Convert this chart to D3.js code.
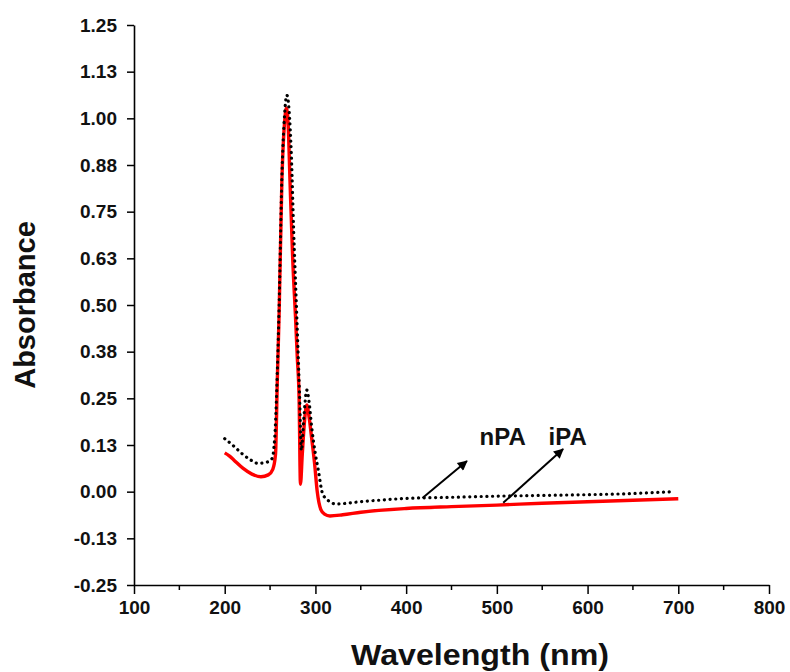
<!DOCTYPE html>
<html>
<head>
<meta charset="utf-8">
<script src="https://cdn.jsdelivr.net/npm/d3@7"></script>
<style>
  html, body { margin: 0; padding: 0; background: #fff; }
  svg { display: block; }
</style>
</head>
<body>
<svg id="chart" width="790" height="672"></svg>
<script>
"use strict";

// nPA (black dotted) - wavelength nm / absorbance
const npaWave = [200, 210, 220, 230, 236, 245, 252, 255, 258, 260, 263, 266, 268.5, 271, 273.5, 276, 279, 282.5, 284.5, 287, 290.5, 293, 296, 300, 303, 308, 316, 322, 350, 400, 450, 500, 550, 600, 650, 693];
const npaAbs  = [0.142, 0.122, 0.100, 0.083, 0.076, 0.078, 0.088, 0.14, 0.32, 0.50, 0.84, 1.01, 1.062, 1.02, 0.90, 0.70, 0.50, 0.26, 0.11, 0.19, 0.272, 0.24, 0.17, 0.10, 0.06, -0.006, -0.027, -0.033, -0.027, -0.018, -0.015, -0.012, -0.010, -0.008, -0.005, 0.000];

// iPA (red solid)
const ipaWave = [200, 205, 210, 220, 230, 240, 248, 253, 256, 258, 260, 263, 266, 268, 270, 272, 275, 278, 280, 282, 283.5, 285.5, 288, 290.5, 293, 296, 299, 302, 306, 310, 316, 330, 350, 400, 450, 500, 550, 600, 650, 700];
const ipaAbs  = [0.104, 0.096, 0.085, 0.063, 0.047, 0.040, 0.045, 0.060, 0.10, 0.30, 0.48, 0.83, 0.99, 1.027, 0.98, 0.83, 0.62, 0.47, 0.36, 0.25, 0.02, 0.10, 0.19, 0.232, 0.20, 0.14, 0.077, 0.00, -0.048, -0.060, -0.065, -0.062, -0.055, -0.045, -0.040, -0.036, -0.031, -0.027, -0.023, -0.019];

const xTicks = [100, 200, 300, 400, 500, 600, 700, 800];
const xMinorTicks = [150, 250, 350, 450, 550, 650, 750];
const yTicks = [1.25, 1.125, 1.0, 0.875, 0.75, 0.625, 0.5, 0.375, 0.25, 0.125, 0.0, -0.125, -0.25];
const yTickLabels = ["1.25", "1.13", "1.00", "0.88", "0.75", "0.63", "0.50", "0.38", "0.25", "0.13", "0.00", "-0.13", "-0.25"];

// arrow annotations: [label, tail nm, tail abs, head nm, head abs, label nm, label abs]
const annotations = [
  ["nPA", 418, -0.017, 467, 0.082, 481, 0.125],
  ["iPA", 507, -0.030, 573, 0.114, 557, 0.125]
];

const svg = d3.select("#chart");
const font = "'Liberation Sans', Arial, sans-serif";

const x = d3.scaleLinear().domain([100, 800]).range([134, 769]);
const y = d3.scaleLinear().domain([-0.25, 1.25]).range([585, 25]);

svg.append("rect").attr("width", 790).attr("height", 672).attr("fill", "#fff");

// axes
const xAxis = svg.append("g")
  .attr("transform", `translate(0,${y(-0.25)})`)
  .call(d3.axisBottom(x).tickValues(xTicks).tickSize(9).tickPadding(7).tickFormat(d3.format("d")).tickSizeOuter(0));
xAxis.append("g").selectAll("line")
  .data(xMinorTicks)
  .join("line")
  .attr("x1", (d) => x(d)).attr("x2", (d) => x(d))
  .attr("y1", 0).attr("y2", 5)
  .attr("stroke", "#000").attr("stroke-width", 1.5);

const yAxis = svg.append("g")
  .attr("transform", `translate(${x(100)},0)`)
  .call(d3.axisLeft(y).tickValues(yTicks).tickSize(7).tickPadding(10)
    .tickFormat((d, i) => yTickLabels[i]).tickSizeOuter(0));

[xAxis, yAxis].forEach((g) => {
  g.select(".domain").attr("stroke", "#000").attr("stroke-width", 1.6);
  g.selectAll(".tick line").attr("stroke", "#000").attr("stroke-width", 1.5);
  g.selectAll(".tick text")
    .attr("fill", "#111")
    .style("font-family", font)
    .style("font-size", "19px")
    .style("font-weight", "bold");
});

// curves
const line = d3.line()
  .x((d) => x(d[0]))
  .y((d) => y(d[1]))
  .curve(d3.curveMonotoneX);

svg.append("path")
  .datum(ipaWave.map((w, i) => [w, ipaAbs[i]]))
  .attr("d", line)
  .attr("fill", "none")
  .attr("stroke", "#f00")
  .attr("stroke-width", 3.4)
  .attr("stroke-linejoin", "round");

svg.append("path")
  .datum(npaWave.map((w, i) => [w, npaAbs[i]]))
  .attr("d", line)
  .attr("fill", "none")
  .attr("stroke", "#000")
  .attr("stroke-width", 3.2)
  .attr("stroke-linecap", "round")
  .attr("stroke-dasharray", "0.1 5.6");

// arrows
svg.append("defs").append("marker")
  .attr("id", "arrow")
  .attr("viewBox", "0 0 10 10")
  .attr("refX", 9).attr("refY", 5)
  .attr("markerWidth", 7).attr("markerHeight", 5)
  .attr("markerUnits", "strokeWidth")
  .attr("orient", "auto")
  .append("path")
  .attr("d", "M0,0L10,5L0,10Z")
  .attr("fill", "#000");

const ann = svg.append("g");
ann.selectAll("line")
  .data(annotations)
  .join("line")
  .attr("x1", (d) => x(d[1])).attr("y1", (d) => y(d[2]))
  .attr("x2", (d) => x(d[3])).attr("y2", (d) => y(d[4]))
  .attr("stroke", "#000")
  .attr("stroke-width", 2)
  .attr("marker-end", "url(#arrow)");

ann.selectAll("text")
  .data(annotations)
  .join("text")
  .attr("x", (d) => x(d[5]))
  .attr("y", (d) => y(d[6]))
  .style("font-family", font)
  .style("font-size", "24px")
  .style("font-weight", "bold")
  .attr("fill", "#111")
  .text((d) => d[0]);

// axis titles
svg.append("text")
  .attr("x", 480)
  .attr("y", 665)
  .attr("text-anchor", "middle")
  .attr("textLength", 258)
  .attr("lengthAdjust", "spacingAndGlyphs")
  .style("font-family", font)
  .style("font-size", "30px")
  .style("font-weight", "bold")
  .attr("fill", "#111")
  .text("Wavelength (nm)");

svg.append("text")
  .attr("transform", `translate(35,${y(0.5)}) rotate(-90)`)
  .attr("text-anchor", "middle")
  .style("font-family", font)
  .style("font-size", "29px")
  .style("font-weight", "bold")
  .attr("fill", "#111")
  .text("Absorbance");
</script>
</body>
</html>
